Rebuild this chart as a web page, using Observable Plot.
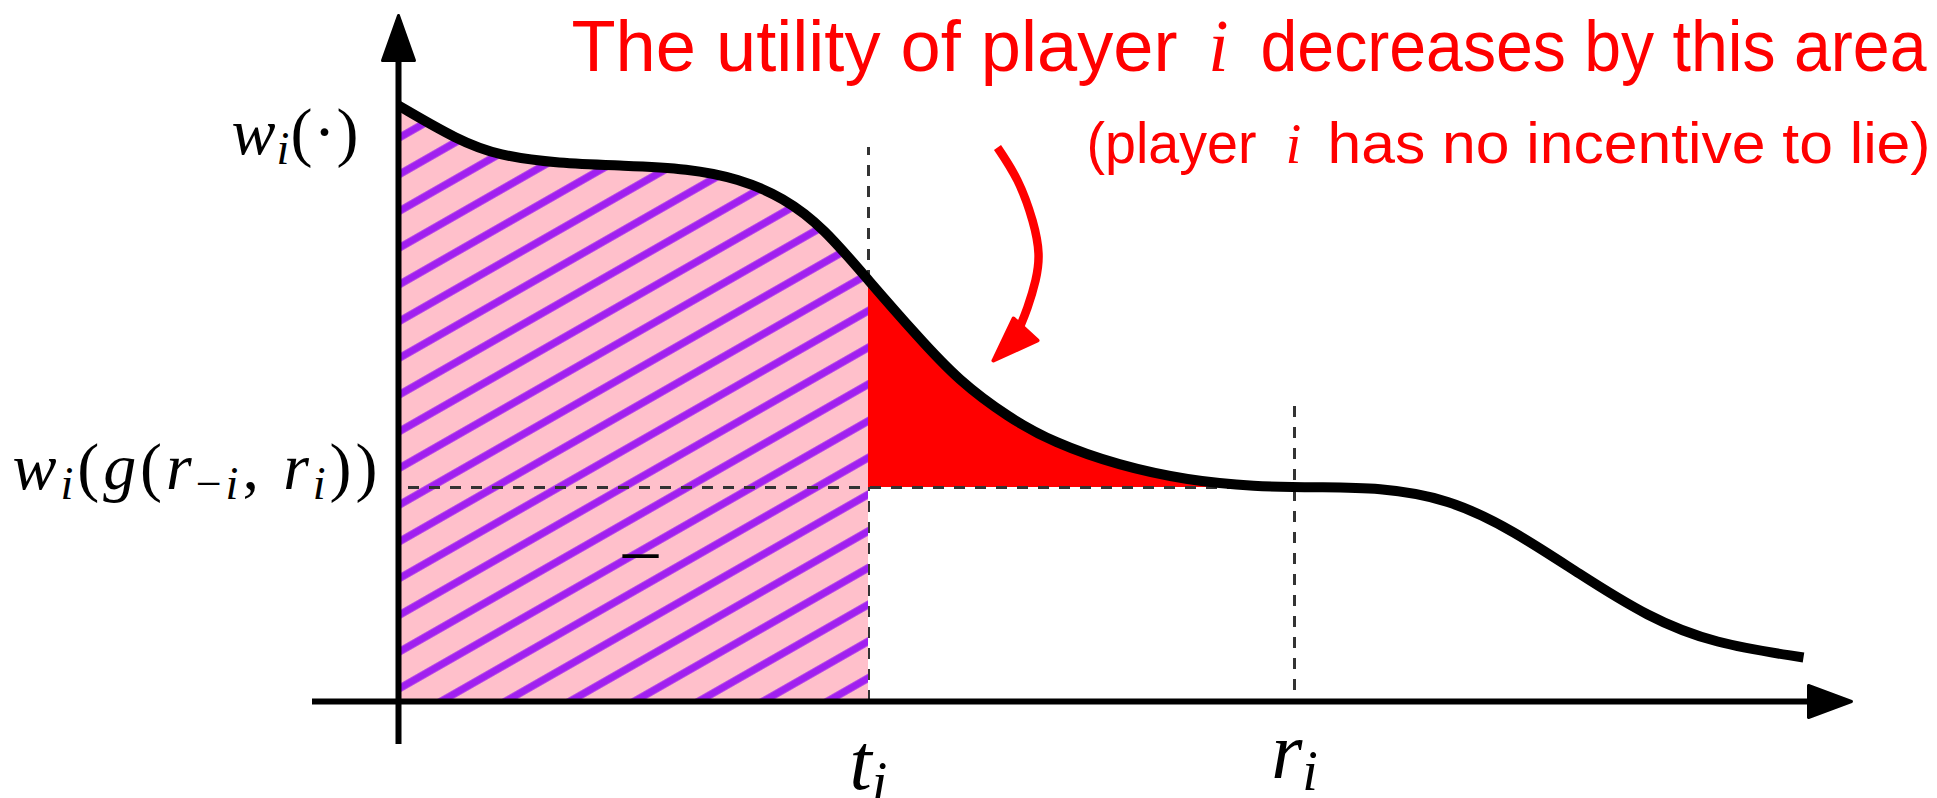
<!DOCTYPE html>
<html>
<head>
<meta charset="utf-8">
<script src="https://cdn.jsdelivr.net/npm/d3@7"></script>
<script src="https://cdn.jsdelivr.net/npm/@observablehq/plot@0.6"></script>
<style>
  html, body { margin: 0; padding: 0; background: #fff; }
  svg { display: block; }
</style>
</head>
<body>
<div id="chart"></div>
<script>
// ---- values ---------------------------------------------------------------
// Reported type along the horizontal axis, and the welfare curve w_i(·) there
const typeX   = [0, 0.6, 1.0, 1.6, 2.25, 2.9, 3.4, 3.85, 4.25, 4.7, 5.2, 5.6, 6.1, 6.55, 7.2, 7.9, 8.55, 9.2, 9.8, 10.5, 11.15, 11.8, 12.5, 13.15, 14.05];
const welfare = [5.96, 5.61, 5.46, 5.38, 5.36, 5.33, 5.23, 5.04, 4.74, 4.21, 3.64, 3.21, 2.84, 2.59, 2.36, 2.21, 2.15, 2.14, 2.14, 2.03, 1.71, 1.28, 0.84, 0.58, 0.44];

// True type t_i, reported type r_i, and the welfare level w_i(g(r_-i, r_i))
const tI = 4.70;
const rI = 8.96;
const level = 2.14;

// Texts
const headline    = ["The utility of player", "i", "decreases by this area"];
const note        = ["(player", "i", "has no incentive to lie)"];
const valueLabels = ["w_i(·)", "w_i(g(r_{−i}, r_i))"];
const typeLabels  = ["t_i", "r_i"];
const areaSign    = ["−"];

// ---- layout ---------------------------------------------------------------
const W = 1937, H = 798;
const layout = {
  xDomain: [-3.98, 15.39],
  yDomain: [-0.97, 7.01],
  headline: {y: 6.31, size: 73, x: [1.73, 8.20, 8.62], len: [606, 0, 666]},
  note:     {y: 5.39, size: 57, x: [6.88, 8.95, 9.29], len: [170, 0, 603]},
  valueLabels: {x: [-0.40, -0.21], y: [5.48, 2.13], size: 66, len: [127, 365]},
  typeLabels:  {y: [-0.87, -0.76], size: 80},
  areaSign: {x: 2.42, y: 1.20, size: 78},
  tDash: [0, 5.54],
  rDash: [0.11, 2.98],
  levelDash: [0.10, rI],
  yAxis: [-0.43, 6.45],
  xAxis: [-0.86, 14.15],
  yHead: [[-0.16, 6.41], [0, 6.86], [0.16, 6.41]],
  xHead: [[14.10, 0.16], [14.53, 0], [14.10, -0.16]],
  pointer: [[5.99, 5.54], [6.19, 5.21], [6.34, 4.81], [6.40, 4.48], [6.37, 4.21], [6.29, 3.94], [6.22, 3.76]],
  pointerHead: [[5.95, 3.41], [6.15, 3.83], [6.39, 3.61]],
  hatch: {anchor: [0.49, 0.03], angle: -29.7, gap: 31.9, width: 7.5}
};

const RED = "#ff0000", PINK = "#ffc0cb", PURPLE = "#a020f0", DASH = "#333333";
const SANS = "'Liberation Sans', Arimo, Arial, sans-serif";
const SERIF = "'Liberation Serif', 'Times New Roman', serif";

// ---- derived tables -------------------------------------------------------
const curvePts = typeX.map((x, i) => ({x, w: welfare[i]}));
const truthfulPts = curvePts.filter(d => d.x <= tI);
const lossPts = curvePts.filter(d => d.x >= tI && d.w - level > 0.005);
const closed = pts => [...pts, pts[0]].map(([x, y]) => ({x, y}));
const headlineRows = headline.map((text, i) => ({text, x: layout.headline.x[i], i}));
const noteRows = note.map((text, i) => ({text, x: layout.note.x[i], i}));

const dashed = {stroke: DASH, strokeWidth: 3, strokeDasharray: "11,10"};

const plot = Plot.plot({
  width: W,
  height: H,
  margin: 0,
  x: {domain: layout.xDomain, axis: null},
  y: {domain: layout.yDomain, axis: null},
  style: {background: "white"},
  marks: [
    // guide at the true type t_i
    Plot.ruleX([tI], {y1: layout.tDash[0], y2: layout.tDash[1], ...dashed}),
    // utility under truthful reporting: hatched region under w_i up to t_i
    Plot.areaY(truthfulPts, {x: "x", y1: 0, y2: "w", fill: "url(#hatch)", curve: "basis"}),
    // utility lost by misreporting
    Plot.areaY(lossPts, {x: "x", y1: level, y2: "w", fill: RED, curve: "basis"}),
    // level w_i(g(r_-i, r_i)) and guide at r_i
    Plot.ruleY([level], {x1: layout.levelDash[0], x2: layout.levelDash[1], ...dashed}),
    Plot.ruleX([rI], {y1: layout.rDash[0], y2: layout.rDash[1], ...dashed}),
    // the welfare curve
    Plot.line(curvePts, {x: "x", y: "w", stroke: "black", strokeWidth: 10, curve: "basis", strokeLinecap: "butt"}),
    // axes with filled arrow heads
    Plot.ruleX([0], {y1: layout.yAxis[0], y2: layout.yAxis[1], stroke: "black", strokeWidth: 6}),
    Plot.ruleY([0], {x1: layout.xAxis[0], x2: layout.xAxis[1], stroke: "black", strokeWidth: 6}),
    Plot.line(closed(layout.yHead), {x: "x", y: "y", fill: "black", stroke: "black", strokeWidth: 3, strokeLinejoin: "round"}),
    Plot.line(closed(layout.xHead), {x: "x", y: "y", fill: "black", stroke: "black", strokeWidth: 3, strokeLinejoin: "round"}),
    // pointer from the annotation to the lost area
    Plot.line(layout.pointer.map(([x, y]) => ({x, y})), {x: "x", y: "y", stroke: RED, strokeWidth: 8.5, curve: "natural", strokeLinecap: "butt"}),
    Plot.line(closed(layout.pointerHead), {x: "x", y: "y", fill: RED, stroke: RED, strokeWidth: 4, strokeLinejoin: "round"}),
    // annotation
    Plot.text(headlineRows.filter(d => d.i !== 1), {x: "x", y: layout.headline.y, text: "text", textAnchor: "start", lineAnchor: "bottom", fill: RED, fontFamily: SANS, fontSize: layout.headline.size}),
    Plot.text(headlineRows.filter(d => d.i === 1), {x: "x", y: layout.headline.y, text: "text", textAnchor: "middle", lineAnchor: "bottom", fill: RED, fontFamily: SERIF, fontStyle: "italic", fontSize: layout.headline.size}),
    Plot.text(noteRows.filter(d => d.i !== 1), {x: "x", y: layout.note.y, text: "text", textAnchor: "start", lineAnchor: "bottom", fill: RED, fontFamily: SANS, fontSize: layout.note.size}),
    Plot.text(noteRows.filter(d => d.i === 1), {x: "x", y: layout.note.y, text: "text", textAnchor: "middle", lineAnchor: "bottom", fill: RED, fontFamily: SERIF, fontStyle: "italic", fontSize: layout.note.size}),
    // labels
    Plot.text(valueLabels, {x: layout.valueLabels.x, y: layout.valueLabels.y, text: d => d, textAnchor: "end", lineAnchor: "bottom", fill: "black", fontFamily: SERIF, fontSize: layout.valueLabels.size}),
    Plot.text(typeLabels, {x: [tI, rI], y: layout.typeLabels.y, text: d => d, textAnchor: "middle", lineAnchor: "bottom", fill: "black", fontFamily: SERIF, fontSize: layout.typeLabels.size}),
    Plot.text(areaSign, {x: layout.areaSign.x, y: layout.areaSign.y, text: d => d, textAnchor: "middle", lineAnchor: "bottom", fill: "black", fontFamily: SERIF, fontSize: layout.areaSign.size})
  ]
});

// ---- hatch pattern (pink ground, purple diagonal strokes) -----------------
const h = layout.hatch;
const ax = plot.scale("x").apply(h.anchor[0]);
const ay = plot.scale("y").apply(h.anchor[1]);
const defs = d3.create("svg:defs");
const pat = defs.append("pattern")
  .attr("id", "hatch")
  .attr("patternUnits", "userSpaceOnUse")
  .attr("width", 40)
  .attr("height", h.gap)
  .attr("patternTransform", `translate(${ax},${ay}) rotate(${h.angle})`);
pat.append("rect").attr("width", 40).attr("height", h.gap).attr("fill", PINK);
pat.append("rect").attr("y", 0).attr("width", 40).attr("height", h.width / 2).attr("fill", PURPLE);
pat.append("rect").attr("y", h.gap - h.width / 2).attr("width", 40).attr("height", h.width / 2).attr("fill", PURPLE);
plot.insertBefore(defs.node(), plot.firstChild);

// ---- math typesetting: italic letters, subscripts ------------------------
const SVGNS = "http://www.w3.org/2000/svg";
function typeset(node, src, size, length) {
  const pieces = [];
  for (let k = 0; k < src.length; k++) {
    if (src[k] === "_") {
      let body;
      if (src[k + 1] === "{") { const end = src.indexOf("}", k); body = src.slice(k + 2, end); k = end; }
      else { body = src[k + 1]; k += 1; }
      for (const ch of body) pieces.push({ch, sub: true});
    } else pieces.push({ch: src[k], sub: false});
  }
  while (node.firstChild) node.removeChild(node.firstChild);
  let shift = 0;
  for (const p of pieces) {
    const t = document.createElementNS(SVGNS, "tspan");
    const target = p.sub ? 0.16 * size : 0;
    if (target !== shift) { t.setAttribute("dy", target - shift); shift = target; }
    t.setAttribute("font-size", p.sub ? 0.7 * size : size);
    t.setAttribute("font-style", /[a-z]/i.test(p.ch) ? "italic" : "normal");
    t.textContent = p.ch;
    node.appendChild(t);
  }
  if (length) {
    node.setAttribute("textLength", length);
    node.setAttribute("lengthAdjust", "spacing");
  }
}

const allText = Array.from(plot.querySelectorAll("text"));
for (const el of allText) {
  const s = el.textContent;
  let k;
  if ((k = valueLabels.indexOf(s)) >= 0) typeset(el, s, layout.valueLabels.size, layout.valueLabels.len[k]);
  else if ((k = typeLabels.indexOf(s)) >= 0) typeset(el, s, layout.typeLabels.size, 0);
  else if ((k = headline.indexOf(s)) >= 0 && layout.headline.len[k]) {
    el.setAttribute("textLength", layout.headline.len[k]);
    el.setAttribute("lengthAdjust", "spacingAndGlyphs");
  } else if ((k = note.indexOf(s)) >= 0 && layout.note.len[k]) {
    el.setAttribute("textLength", layout.note.len[k]);
    el.setAttribute("lengthAdjust", "spacingAndGlyphs");
  }
}

document.getElementById("chart").appendChild(plot);
</script>
</body>
</html>
